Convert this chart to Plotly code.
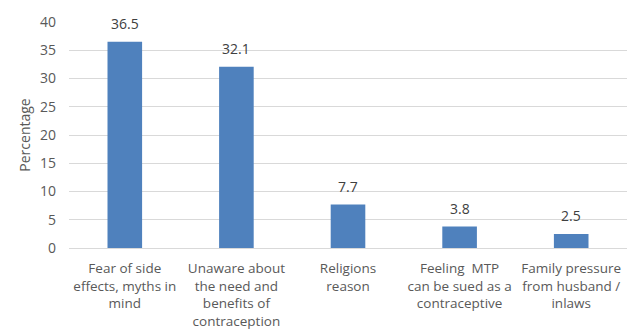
import plotly.graph_objects as go

categories = [
    "Fear of side<br>effects, myths in<br>mind",
    "Unaware about<br>the need and<br>benefits of<br>contraception",
    "Religions<br>reason",
    "Feeling  MTP<br>can be sued as a<br>contraceptive",
    "Family pressure<br>from husband /<br>inlaws",
]
values = [36.5, 32.1, 7.7, 3.8, 2.5]
y_ticks = [0, 5, 10, 15, 20, 25, 30, 35, 40]

text_color = "#595959"
font_family = "Open Sans, Liberation Sans, sans-serif"

fig = go.Figure(
    go.Bar(
        x=categories,
        y=values,
        marker=dict(color="#4F81BD", line=dict(width=0)),
        cliponaxis=False,
    )
)

# value labels sitting a little above each bar
for cat, val in zip(categories, values):
    fig.add_annotation(
        x=cat,
        y=val,
        text=f"{val}",
        showarrow=False,
        yanchor="bottom",
        yshift=7,
        font=dict(size=14, color="#404040", family=font_family),
    )

fig.update_layout(
    width=627,
    height=336,
    margin=dict(l=69, r=0, t=22, b=88),
    paper_bgcolor="white",
    plot_bgcolor="white",
    bargap=0.69,
    showlegend=False,
    font=dict(family=font_family, size=13, color=text_color),
)

fig.update_xaxes(
    showgrid=False,
    showline=True,
    linecolor="#D9D9D9",
    linewidth=1,
    tickfont=dict(size=13.5, color=text_color),
    ticks="",
    ticklabelstandoff=8,
)

fig.update_yaxes(
    range=[0, 40],
    tickvals=y_ticks,
    showgrid=True,
    gridcolor="#D9D9D9",
    gridwidth=1,
    zeroline=False,
    tickfont=dict(size=14, color=text_color),
    ticklabelstandoff=12,
    title=dict(text="Percentage", font=dict(size=14, color=text_color), standoff=6),
)

fig.write_html("out.html")
